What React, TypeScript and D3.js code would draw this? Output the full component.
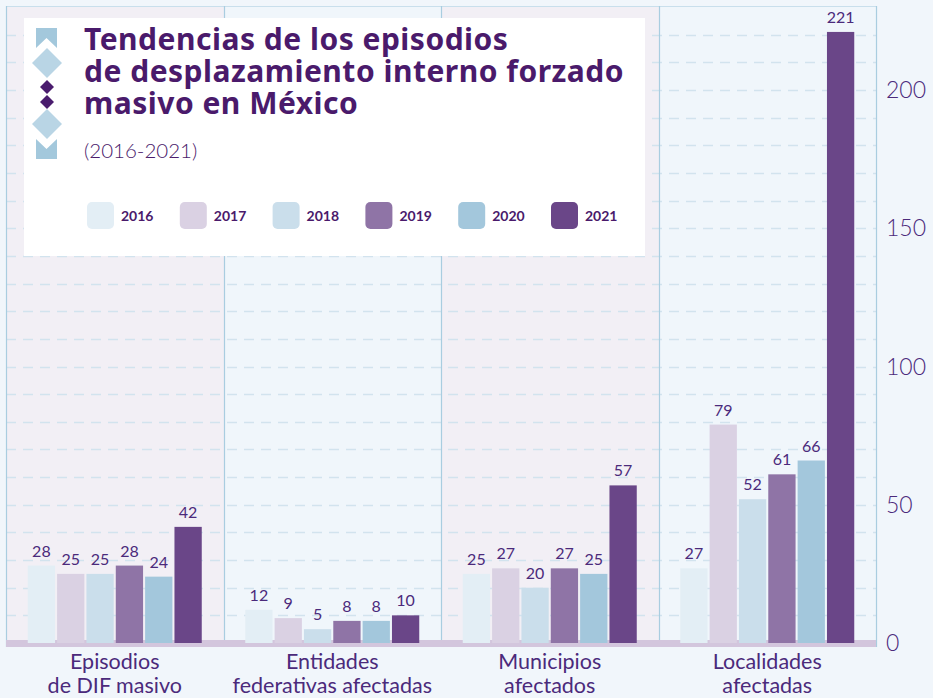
import React, { useEffect, useRef } from 'react';
import * as d3 from 'd3';

// categories (two-line labels), years and one array of values per year
const categories = ['Episodios de DIF masivo', 'Entidades federativas afectadas', 'Municipios afectados', 'Localidades afectadas'];
const categoryLines = [['Episodios', 'de DIF masivo'], ['Entidades', 'federativas afectadas'], ['Municipios', 'afectados'], ['Localidades', 'afectadas']];
const years = ['2016', '2017', '2018', '2019', '2020', '2021'];
const values2016 = [28, 12, 25, 27];
const values2017 = [25, 9, 27, 79];
const values2018 = [25, 5, 20, 52];
const values2019 = [28, 8, 27, 61];
const values2020 = [24, 8, 25, 66];
const values2021 = [42, 10, 57, 221];
const yTicks = [0, 50, 100, 150, 200];
const titleLines = ['Tendencias de los episodios', 'de desplazamiento interno forzado', 'masivo en México'];
const subtitle = '(2016-2021)';

const series = [values2016, values2017, values2018, values2019, values2020, values2021];
const yearColors = ['#e3eef5', '#dad1e3', '#cadeeb', '#8f74a6', '#a3c7dc', '#6a4688'];

const App = () => {
  const ref = useRef<SVGSVGElement>(null);

  const graph = () => {
    const svg = d3.select(ref.current);
    svg.selectAll('*').remove();

    const width = 933;
    const height = 698;
    const left = 6, right = 876, top = 6, zeroY = 643;
    const textColor = '#4b2a7b';

    const x = d3.scaleBand<string>().domain(categories).range([left, right]);
    const y = d3.scaleLinear().domain([0, 200]).range([zeroY, 90]);
    const groupW = 174;
    const xi = d3.scaleBand<string>().domain(years).range([0, groupW]).paddingInner(0.07).paddingOuter(0);

    svg.append('rect').attr('width', width).attr('height', height).attr('fill', '#f1f6fb');

    // panel backgrounds
    svg.append('g').selectAll('rect').data(categories).enter().append('rect')
      .attr('x', d => Math.round(x(d)!))
      .attr('y', top)
      .attr('width', x.bandwidth() + 1)
      .attr('height', zeroY - top)
      .attr('fill', (d, i) => (i % 2 === 0 ? '#f2eff5' : '#f0f6fb'));

    // dashed gridlines every 10
    const grid = d3.range(10, 230, 10);
    svg.append('g').selectAll('line').data(grid).enter().append('line')
      .attr('x1', left).attr('x2', right)
      .attr('y1', d => Math.round(y(d)) + 0.5).attr('y2', d => Math.round(y(d)) + 0.5)
      .attr('stroke', '#d2e3ee')
      .attr('stroke-width', 1.3)
      .attr('stroke-dasharray', '10,7');

    // frame and separators
    svg.append('line').attr('x1', left).attr('x2', right).attr('y1', top + 0.5).attr('y2', top + 0.5).attr('stroke', '#c9dfec');
    const sepX = categories.map(c => x(c)!).concat([right]);
    svg.append('g').selectAll('line').data(sepX).enter().append('line')
      .attr('x1', d => Math.round(d) + 0.5)
      .attr('x2', d => Math.round(d) + 0.5)
      .attr('y1', top).attr('y2', zeroY + 4)
      .attr('stroke', '#a9cde0')
      .attr('stroke-width', 1.2);

    // baseline band
    svg.append('rect').attr('x', left).attr('y', zeroY - 3).attr('width', right - left).attr('height', 7).attr('fill', '#d3c6dd');

    // bars
    const groups = svg.append('g').selectAll('g').data(categories).enter().append('g')
      .attr('transform', d => `translate(${x(d)! + (x.bandwidth() - groupW) / 2},0)`);

    groups.selectAll('rect')
      .data((d, ci) => years.map((yr, yi) => ({ yr, yi, v: series[yi][ci] })))
      .enter().append('rect')
      .attr('x', d => xi(d.yr)!)
      .attr('y', d => y(d.v))
      .attr('width', xi.bandwidth())
      .attr('height', d => zeroY - y(d.v))
      .attr('fill', d => yearColors[d.yi]);

    groups.selectAll('text')
      .data((d, ci) => years.map((yr, yi) => ({ yr, yi, v: series[yi][ci] })))
      .enter().append('text')
      .attr('x', d => xi(d.yr)! + xi.bandwidth() / 2)
      .attr('y', d => y(d.v) - 9)
      .attr('text-anchor', 'middle')
      .style('font-family', 'Lato')
      .style('font-size', '16px')
      .attr('fill', textColor)
      .text(d => d.v);

    // category labels
    const catLabel = svg.append('g').selectAll('text').data(categories).enter().append('text')
      .attr('x', d => x(d)! + x.bandwidth() / 2)
      .attr('text-anchor', 'middle')
      .style('font-family', 'Lato')
      .style('font-size', '21.5px')
      .attr('fill', textColor);
    catLabel.selectAll('tspan').data((d, i) => categoryLines[i]).enter().append('tspan')
      .attr('x', function () { return (this.parentNode as SVGTextElement).getAttribute('x'); })
      .attr('y', (d, i) => 669 + i * 24)
      .text(d => d);

    // right axis
    svg.append('g').selectAll('text').data(yTicks).enter().append('text')
      .attr('x', 886)
      .attr('y', d => y(d) + 8)
      .style('font-family', 'Lato')
      .style('font-weight', 300)
      .style('font-size', '23px')
      .attr('fill', textColor)
      .text(d => d);

    // title box
    svg.append('rect').attr('x', 24).attr('y', 18).attr('width', 621).attr('height', 238).attr('fill', '#ffffff');

    const deco = svg.append('g');
    deco.append('path').attr('d', 'M36,28 H57 V48 L46.5,38 L36,48 Z').attr('fill', '#a3c8dc');
    deco.append('path').attr('d', 'M36,159 H57 V139 L46.5,149 L36,139 Z').attr('fill', '#a3c8dc');
    [63, 124].forEach(cy => {
      deco.append('path').attr('d', `M47,${cy - 15} L62,${cy} L47,${cy + 15} L32,${cy} Z`).attr('fill', '#b9d5e5');
    });
    [87, 102].forEach(cy => {
      deco.append('path').attr('d', `M47,${cy - 7} L54,${cy} L47,${cy + 7} L40,${cy} Z`).attr('fill', '#4a1c6e');
    });

    svg.append('g').selectAll('text').data(titleLines).enter().append('text')
      .attr('x', 84)
      .attr('y', (d, i) => 50 + i * 32)
      .style('font-family', 'Noto Sans')
      .style('font-weight', 700)
      .style('font-size', '30px')
      .style('letter-spacing', '0.5px')
      .attr('fill', '#4a1a6b')
      .text(d => d);

    svg.append('text').attr('x', 84).attr('y', 158)
      .style('font-family', 'Lato')
      .style('font-weight', 300)
      .style('font-size', '20.5px')
      .attr('fill', '#4a1a6b')
      .text(subtitle);

    // legend
    const legend = svg.append('g').selectAll('g').data(years).enter().append('g')
      .attr('transform', (d, i) => `translate(${87 + i * 92.8},202)`);
    legend.append('rect').attr('width', 27).attr('height', 27).attr('rx', 5).attr('fill', (d, i) => yearColors[i]);
    legend.append('text').attr('x', 34).attr('y', 19)
      .style('font-family', 'Lato')
      .style('font-weight', 700)
      .style('font-size', '14px')
      .attr('fill', '#4a1a6b')
      .text(d => d);
  };

  useEffect(() => graph());

  return (
    <svg ref={ref} width="933" height="698" style={{ position: 'absolute', left: 0, top: 0 }}></svg>
  );
};

export default App;
